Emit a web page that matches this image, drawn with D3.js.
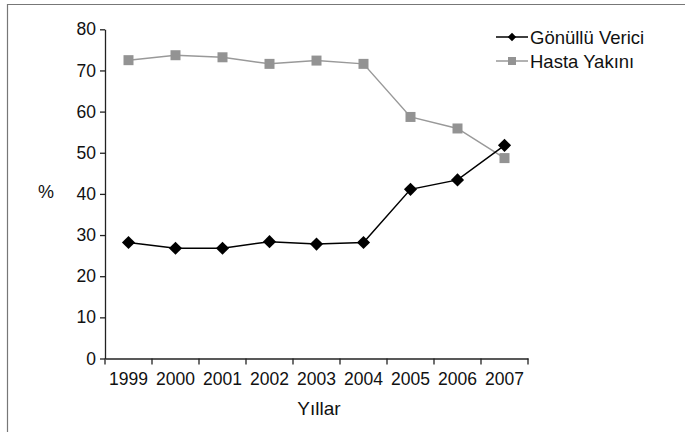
<!DOCTYPE html>
<html><head><meta charset="utf-8">
<script src="https://cdn.jsdelivr.net/npm/d3@7"></script>
<style>
html,body{margin:0;padding:0;background:#fff;}
svg text{font-family:"Liberation Sans",Arial,sans-serif;fill:#111;}
</style></head>
<body><svg id="c" width="685" height="432"></svg>
<script>
const years = ["1999","2000","2001","2002","2003","2004","2005","2006","2007"];
const gonullu = [28.2, 26.8, 26.8, 28.4, 27.8, 28.2, 41.1, 43.4, 51.8];
const hasta = [72.5, 73.7, 73.2, 71.6, 72.4, 71.6, 58.7, 55.9, 48.7];
const yTicks = [0,10,20,30,40,50,60,70,80];
const seriesNames = ["Gönüllü Verici","Hasta Yakını"];

const svg = d3.select("#c");
// frame
svg.append("path").attr("d","M7.5,432 V4.5 H685").attr("fill","none").attr("stroke","#777").attr("stroke-width",1.2);

const x = d3.scaleBand().domain(years).range([105,528]);
const y = d3.scaleLinear().domain([0,80]).range([358.5,29.3]);

// y axis
const ya = svg.append("g").attr("transform","translate(105,0)")
  .call(d3.axisLeft(y).tickValues(yTicks).tickSize(5).tickPadding(4).tickSizeOuter(0));
ya.select(".domain").attr("stroke","#222").attr("stroke-width",1.3);
ya.selectAll(".tick line").attr("stroke","#222").attr("stroke-width",1.3);
ya.selectAll("text").style("font-size","17.5px").attr("fill","#111");

// x axis
const xa = svg.append("g").attr("transform","translate(0,358.5)")
  .call(d3.axisBottom(x).tickSize(0).tickPadding(14).tickSizeOuter(0));
xa.select(".domain").attr("stroke","#222").attr("stroke-width",1.3);
xa.selectAll("text").style("font-size","17.5px").attr("fill","#111");
// tick marks at band boundaries
const bounds = years.map(d=>x(d)).concat([x(years[years.length-1])+x.bandwidth()]);
xa.selectAll(".bnd").data(bounds).join("line").attr("class","bnd")
  .attr("x1",d=>d).attr("x2",d=>d).attr("y1",0).attr("y2",6)
  .attr("stroke","#222").attr("stroke-width",1.3);

const cx = d => x(d)+x.bandwidth()/2;
const line = d3.line().x((d,i)=>cx(years[i])).y(d=>y(d));

// Hasta
svg.append("path").datum(hasta).attr("d",line).attr("fill","none").attr("stroke","#999").attr("stroke-width",1.5);
svg.selectAll(".sq").data(hasta).join("rect").attr("class","sq")
  .attr("x",(d,i)=>cx(years[i])-5).attr("y",d=>y(d)-5).attr("width",10).attr("height",10).attr("fill","#939393");

// Gonullu
svg.append("path").datum(gonullu).attr("d",line).attr("fill","none").attr("stroke","#000").attr("stroke-width",1.5);
const dia = d3.symbol().type(d3.symbolDiamond2).size(110);
svg.selectAll(".dm").data(gonullu).join("path").attr("class","dm")
  .attr("transform",(d,i)=>`translate(${cx(years[i])},${y(d)})`).attr("d",dia).attr("fill","#000");

// legend
const lg = svg.append("g");
const lgY = [37, 61];
lg.append("line").attr("x1",496).attr("x2",528).attr("y1",lgY[0]).attr("y2",lgY[0]).attr("stroke","#000").attr("stroke-width",1.5);
lg.append("path").attr("transform",`translate(512,${lgY[0]})`).attr("d",d3.symbol().type(d3.symbolDiamond2).size(45)).attr("fill","#000");
lg.append("line").attr("x1",496).attr("x2",528).attr("y1",lgY[1]).attr("y2",lgY[1]).attr("stroke","#999").attr("stroke-width",1.5);
lg.append("rect").attr("x",508).attr("y",lgY[1]-4).attr("width",8).attr("height",8).attr("fill","#939393");
lg.selectAll("text").data(seriesNames).join("text")
  .attr("x",530).attr("y",(d,i)=>lgY[i]).attr("dy","0.36em").style("font-size","18.5px").text(d=>d);

// axis titles
svg.append("text").attr("x",46).attr("y",192).attr("text-anchor","middle").attr("dy","0.36em").style("font-size","18px").text("%");
svg.append("text").attr("x",319).attr("y",415).attr("text-anchor","middle").style("font-size","19px").text("Yıllar");
</script></body></html>
